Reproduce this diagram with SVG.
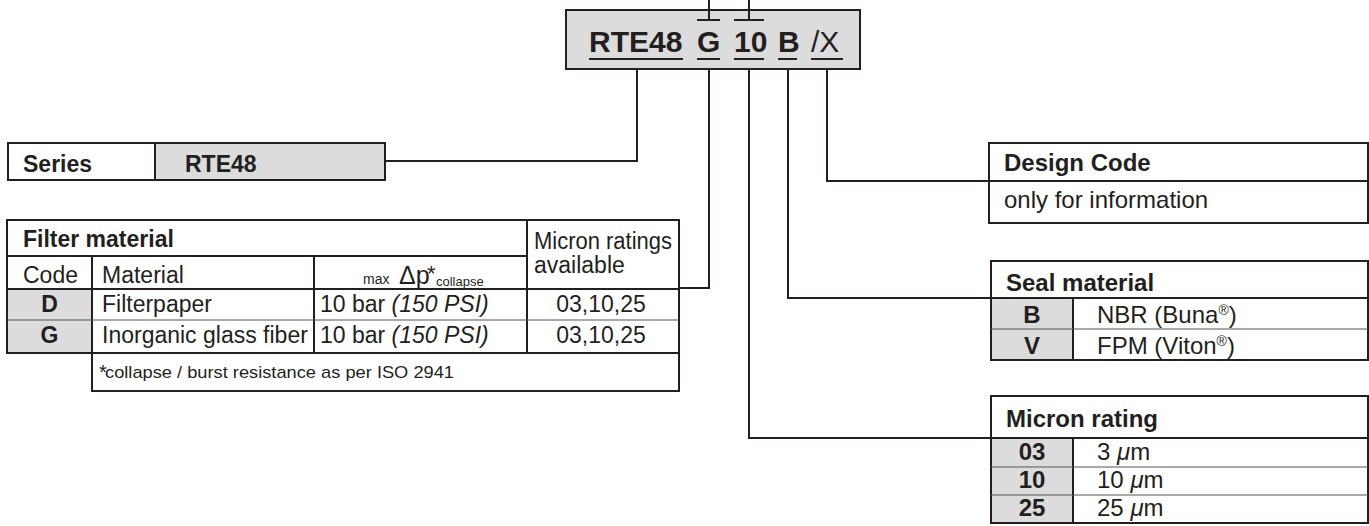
<svg xmlns="http://www.w3.org/2000/svg" width="1369" height="526" viewBox="0 0 1369 526">
<style>
text{font-family:"Liberation Sans",Arial,Helvetica,sans-serif;fill:#231f20}
.b{font-weight:bold}
.t{font-size:23px}
.r{font-size:24px}
.box{fill:#fff;stroke:#231f20;stroke-width:2}
.gray{fill:#dcdcdd;stroke:none}
.ln{stroke:#231f20;stroke-width:2;fill:none}
.thin{stroke:#555;stroke-width:1;fill:none}
.c{text-anchor:middle}
.i{font-style:italic}
</style>
<rect width="1369" height="526" fill="#fff"/>

<g id="connectors">
<path class="ln" d="M709,0V20M697,20H720M749,0V20M734,20H764"/>
<path class="ln" d="M637,59V161H385"/>
<path class="ln" d="M709,59V288H679"/>
<path class="ln" d="M749,59V438H991"/>
<path class="ln" d="M788,59V298H991"/>
<path class="ln" d="M827,59V181H989"/>
</g>

<g id="code">
<rect x="566" y="10" width="294" height="59" fill="#dcdcdd" stroke="#231f20" stroke-width="2"/>
<path class="ln" d="M709,10V20M697,20H720M749,10V20M734,20H764"/>
<text x="589" y="52" font-size="30" class="b">RTE48</text>
<text x="697" y="52" font-size="30" class="b">G</text>
<text x="734" y="52" font-size="30" class="b">10</text>
<text x="778" y="52" font-size="30" class="b">B</text>
<text x="811" y="52" font-size="30">/X</text>
<path class="ln" d="M589,59H683M697,59H720M734,59H764M778,59H797M811,59H843"/>
</g>

<g id="series">
<rect x="8" y="143" width="377" height="37" class="box"/>
<rect x="155" y="144" width="229" height="35" class="gray"/>
<path class="ln" d="M155,143V180"/>
<text x="23" y="172" class="t b">Series</text>
<text x="185" y="172" class="t b">RTE48</text>
</g>

<g id="filter-material">
<rect x="7" y="220" width="672" height="133" class="box"/>
<rect x="8" y="290" width="84" height="62" class="gray"/>
<rect x="92" y="353" width="587" height="38" class="box"/>
<path class="ln" d="M7,256H527M527,220V353M92,256V391M314,256V353M7,289H679"/>
<path class="thin" d="M7,320H679"/>
<path class="ln" d="M7,353H679"/>
<text x="23" y="247" class="t b">Filter material</text>
<text x="23" y="283" class="t">Code</text>
<text x="102" y="283" class="t">Material</text>
<text x="363" y="284" font-size="14">max</text>
<text x="399" y="284" font-size="25">Δp</text>
<text x="427" y="281" font-size="22">*</text>
<text x="436" y="286" font-size="13">collapse</text>
<text x="534" y="249" class="t" textLength="138" lengthAdjust="spacingAndGlyphs">Micron ratings</text>
<text x="534" y="273" class="t">available</text>
<text x="49.5" y="312" class="t b c">D</text>
<text x="102" y="312" class="t">Filterpaper</text>
<text x="320" y="312" class="t">10 bar <tspan class="i">(150 PSI)</tspan></text>
<text x="601" y="312" class="t c">03,10,25</text>
<text x="49.5" y="343" class="t b c">G</text>
<text x="102" y="343" class="t">Inorganic glass fiber</text>
<text x="320" y="343" class="t">10 bar <tspan class="i">(150 PSI)</tspan></text>
<text x="601" y="343" class="t c">03,10,25</text>
<text x="99" y="379" font-size="20">*</text>
<text x="105" y="378" font-size="17" textLength="349" lengthAdjust="spacingAndGlyphs">collapse / burst resistance as per ISO 2941</text>
</g>

<g id="design-code">
<rect x="989" y="143" width="379" height="80" class="box"/>
<path class="ln" d="M989,181H1368"/>
<text x="1004" y="171" class="r b">Design Code</text>
<text x="1004" y="208" class="r">only for information</text>
</g>

<g id="seal-material">
<rect x="991" y="261" width="377" height="99" class="box"/>
<rect x="992" y="299" width="81" height="60" class="gray"/>
<path class="ln" d="M991,298H1368M1073,298V360"/>
<path class="thin" d="M991,329H1368"/>
<text x="1006" y="291" class="r b">Seal material</text>
<text x="1032" y="323" class="r b c">B</text>
<text x="1097" y="323" class="r">NBR (Buna<tspan font-size="14" dy="-8">®</tspan><tspan dy="8">)</tspan></text>
<text x="1032" y="354" class="r b c">V</text>
<text x="1097" y="354" class="r">FPM (Viton<tspan font-size="14" dy="-8">®</tspan><tspan dy="8">)</tspan></text>
</g>

<g id="micron-rating">
<rect x="991" y="396" width="377" height="127" class="box"/>
<rect x="992" y="439" width="81" height="83" class="gray"/>
<path class="ln" d="M991,438H1368M1073,438V523"/>
<path class="thin" d="M991,467H1368M991,495H1368"/>
<text x="1006" y="427" class="r b">Micron rating</text>
<text x="1032" y="460" class="r b c">03</text>
<text x="1097" y="460" class="r">3 <tspan class="i">μ</tspan>m</text>
<text x="1032" y="488" class="r b c">10</text>
<text x="1097" y="488" class="r">10 <tspan class="i">μ</tspan>m</text>
<text x="1032" y="516" class="r b c">25</text>
<text x="1097" y="516" class="r">25 <tspan class="i">μ</tspan>m</text>
</g>
</svg>
